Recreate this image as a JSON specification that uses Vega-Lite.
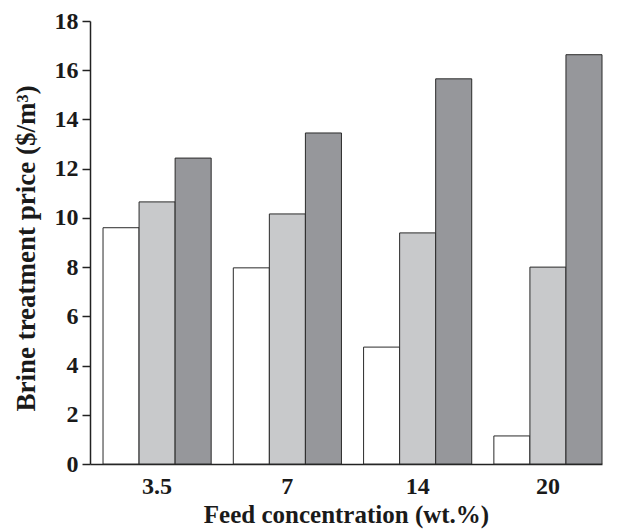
{
  "$schema": "https://vega.github.io/schema/vega-lite/v6.json",
  "autosize": "none",
  "width": 512,
  "height": 443,
  "padding": {"left": 90, "top": 21, "right": 28, "bottom": 67},
  "background": "white",
  "data": {"values": [
    {"feed": "3.5", "series": "A", "price": 9.6},
    {"feed": "3.5", "series": "B", "price": 10.65},
    {"feed": "3.5", "series": "C", "price": 12.43},
    {"feed": "7", "series": "A", "price": 7.97},
    {"feed": "7", "series": "B", "price": 10.16},
    {"feed": "7", "series": "C", "price": 13.45},
    {"feed": "14", "series": "A", "price": 4.75},
    {"feed": "14", "series": "B", "price": 9.39},
    {"feed": "14", "series": "C", "price": 15.65},
    {"feed": "20", "series": "A", "price": 1.14},
    {"feed": "20", "series": "B", "price": 8.0},
    {"feed": "20", "series": "C", "price": 16.63}
  ]},
  "mark": {"type": "bar", "stroke": "#2a2a2a", "strokeWidth": 1},
  "encoding": {
    "x": {
      "field": "feed", "type": "nominal", "sort": null,
      "scale": {"paddingInner": 0.17, "paddingOuter": 0.05, "align": 1},
      "axis": {
        "title": "Feed concentration (wt.%)", "labelAngle": 0,
        "ticks": false, "labelPadding": 10, "titlePadding": 4,
        "labelFont": "Liberation Serif", "labelFontSize": 24, "labelFontWeight": "bold", "labelColor": "#1a1a1a",
        "titleFont": "Liberation Serif", "titleFontSize": 25, "titleFontWeight": "bold", "titleColor": "#1a1a1a",
        "domainColor": "#222", "domainWidth": 1.5
      }
    },
    "xOffset": {"field": "series", "type": "nominal", "scale": {"paddingInner": 0, "paddingOuter": 0}},
    "y": {
      "field": "price", "type": "quantitative",
      "scale": {"domain": [0, 18], "nice": false},
      "axis": {
        "title": "Brine treatment price ($/m³)", "values": [0, 2, 4, 6, 8, 10, 12, 14, 16, 18],
        "grid": false, "tickSize": 8, "tickColor": "#222", "tickWidth": 1.5, "labelPadding": 4,
        "labelFont": "Liberation Serif", "labelFontSize": 24, "labelFontWeight": "bold", "labelColor": "#1a1a1a",
        "titleFont": "Liberation Serif", "titleFontSize": 27, "titleFontWeight": "bold", "titleColor": "#1a1a1a",
        "titlePadding": 14, "titleY": 227,
        "domainColor": "#222", "domainWidth": 1.5
      }
    },
    "fill": {
      "field": "series", "type": "nominal",
      "scale": {"domain": ["A", "B", "C"], "range": ["#ffffff", "#c8c9cb", "#96979b"]},
      "legend": null
    }
  },
  "config": {"view": {"stroke": null}}
}
